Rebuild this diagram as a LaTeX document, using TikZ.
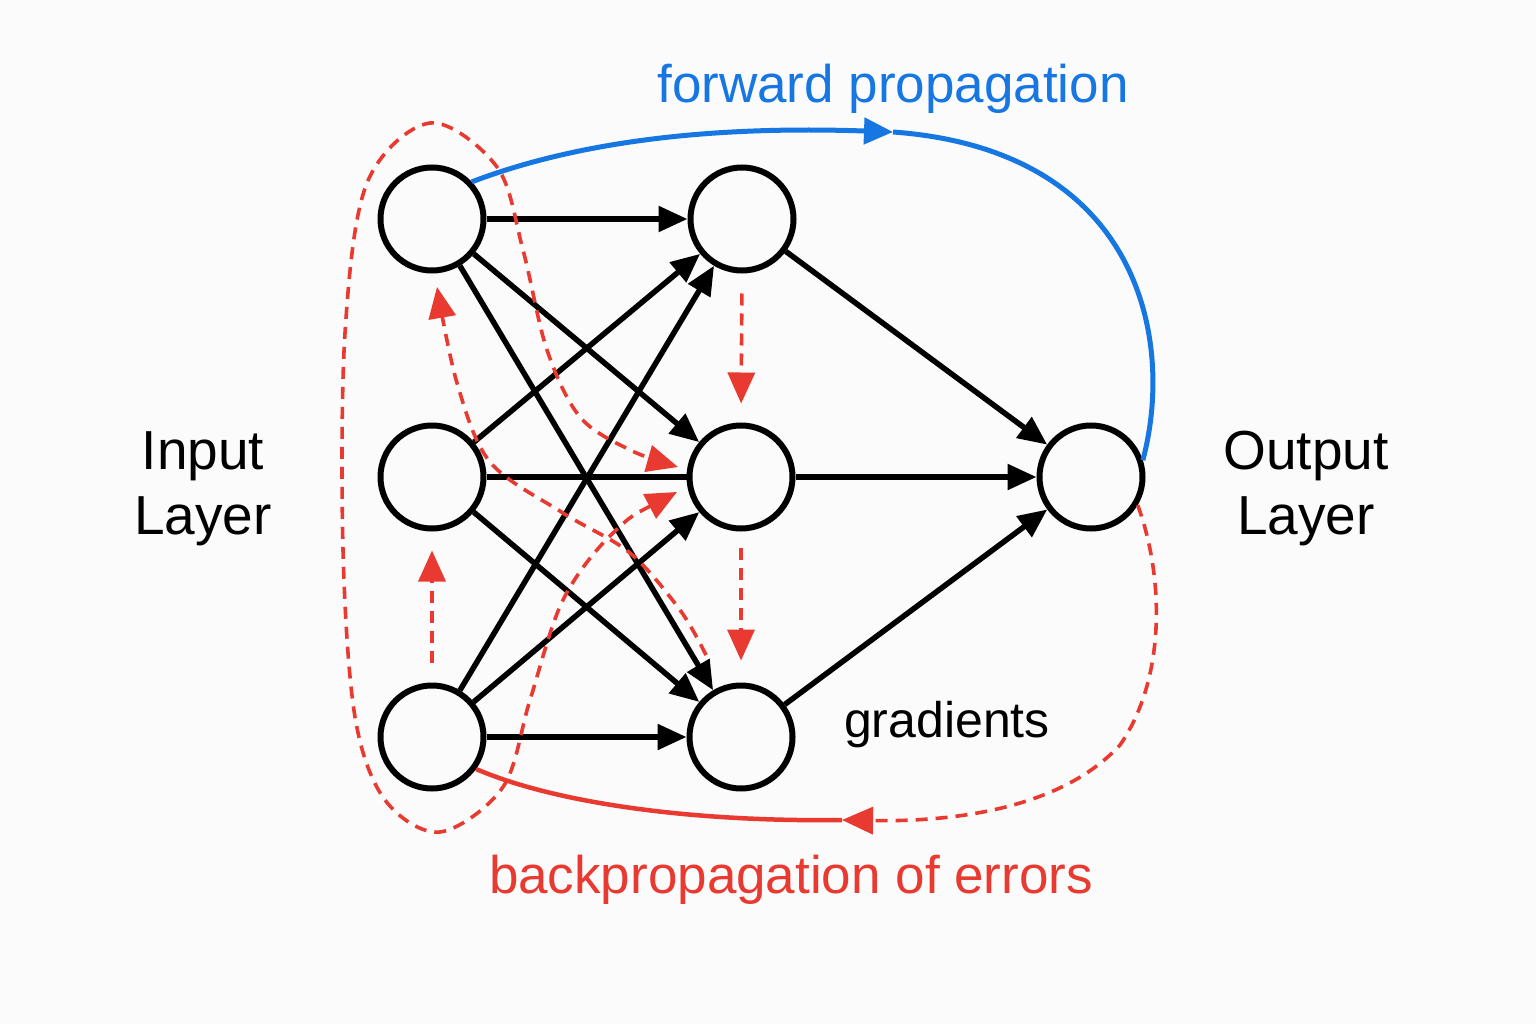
\documentclass[tikz,border=0pt]{standalone}
\usepackage{fontspec}
\setmainfont{Liberation Sans}
\usetikzlibrary{arrows.meta}
\definecolor{bgc}{RGB}{251,251,251}
\definecolor{fwdblue}{RGB}{22,118,226}
\definecolor{errred}{RGB}{232,58,48}
\begin{document}
\begin{tikzpicture}[x=1pt,y=-1pt,
  neuron/.style={circle, draw=black, line width=6pt, minimum size=103pt, inner sep=0pt, fill=bgc},
  link/.style={line width=5.5pt, -{Triangle[length=29pt,width=25pt]}},
  plainlink/.style={line width=5.5pt},
  fwdline/.style={draw=fwdblue, line width=5pt},
  fwdtip/.style={-{Triangle[length=29pt,width=26pt,fill=fwdblue]}},
  errdash/.style={draw=errred, line width=3.6pt, dash pattern=on 12pt off 8pt},
  errsolid/.style={draw=errred, line width=4.5pt},
  errtip/.style={-{Triangle[length=31pt,width=27pt,fill=errred]}},
  errtips/.style={{Triangle[length=31pt,width=27pt,fill=errred]}-{Triangle[length=31pt,width=27pt,fill=errred]}},
  bigtext/.style={font=\fontsize{55}{65}\selectfont, align=center, inner sep=0pt},
  labtext/.style={font=\fontsize{53}{60}\selectfont, inner sep=0pt, anchor=base}
]
\useasboundingbox (0,0) rectangle (1536,1024);
\fill[bgc] (0,0) rectangle (1536,1024);

% neurons
\node[neuron] (I1) at (432,219) {};
\node[neuron] (I2) at (432,477) {};
\node[neuron] (I3) at (432,737) {};
\node[neuron] (H1) at (742,219) {};
\node[neuron] (H2) at (741,477) {};
\node[neuron] (H3) at (741,737) {};
\node[neuron] (O)  at (1091,477) {};

% black connections
\draw[link] (I1) -- (H1);
\draw[link] (I1) -- (H2);
\draw[link] (I1) -- (H3);
\draw[link] (I2) -- (H1);
\draw[plainlink] (I2) -- (H2);
\draw[link] (I2) -- (H3);
\draw[link] (I3) -- (H1);
\draw[link] (I3) -- (H2);
\draw[link] (I3) -- (H3);
\draw[link] (H1) -- (O);
\draw[link] (H2) -- (O);
\draw[link] (H3) -- (O);

% forward propagation (blue)
\coordinate (fp) at (893,132);
\draw[fwdline, fwdtip] (I1.43) .. controls (600,133) and (750,127) .. (fp);
\draw[fwdline] (fp) .. controls (1140,150) and (1175,340) .. (O.18);

% backpropagation (red)
\coordinate (bp) at (842,820);
\draw[errdash, errtip] (O.-31) .. controls (1165,580) and (1165,680) .. (1120,745)
      .. controls (1060,810) and (950,822) .. (bp);
\draw[errsolid] (bp) .. controls (700,822) and (560,805) .. (I3.-36);

% big dashed loop around input layer
\coordinate (L1) at (677,492);
\coordinate (L2) at (678,467);
\draw[errdash, errtips] plot[smooth, tension=0.55] coordinates {
  (L1) (613,533) (563,600) (530,700) (503,787) (440,832) (385,800) (355,717)
  (343,550) (345,333) (367,183) (430,123) (497,167) (523,250) (547,350)
  (580,417) (630,450) (L2)};

% dashed curve from hidden 3 to input 1
\coordinate (G1) at (706,655);
\coordinate (G2) at (437,287);
\draw[errdash, errtip] plot[smooth, tension=0.55] coordinates {
  (G1) (680,610) (630,553) (563,513) (490,462) (457,383) (G2)};

% short vertical dashed arrows
\draw[errdash, errtip, shorten <=20pt, shorten >=19pt] (I3.north) -- (I2.south);
\draw[errdash, errtip, shorten <=20pt, shorten >=19pt] (H1.south) -- (H2.north);
\draw[errdash, errtip, shorten <=16pt, shorten >=22pt] (H2.south) -- (H3.north);

% labels
\node[bigtext] (inlab) at (203,489) {Input\\Layer};
\node[bigtext] (outlab) at (1306,489) {Output\\Layer};
\node[labtext, text=fwdblue] (fwdlab) at (893,103) {forward propagation};
\node[labtext, text=errred] (bplab) at (791,893) {backpropagation of errors};
\node[labtext, font=\fontsize{50}{58}\selectfont] (gradlab) at (947,737) {gradients};
\end{tikzpicture}
\end{document}
